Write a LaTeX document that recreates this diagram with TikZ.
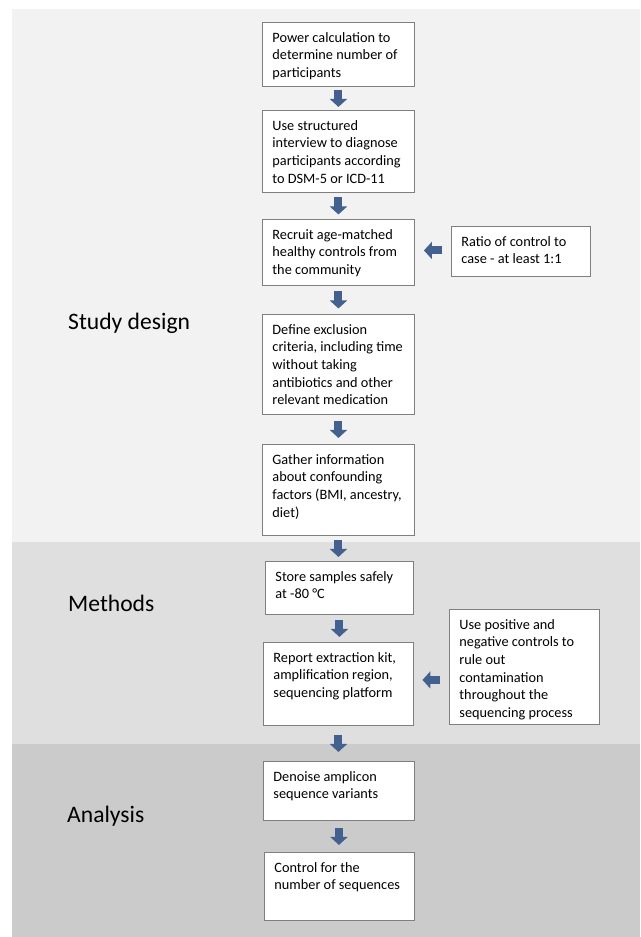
\documentclass[tikz,border=0pt]{standalone}
\usepackage{fontspec}
\setmainfont{Carlito}
\usetikzlibrary{arrows.meta,calc}
\definecolor{bandA}{HTML}{F2F2F2}
\definecolor{bandB}{HTML}{DFDFDF}
\definecolor{bandC}{HTML}{CBCBCB}
\definecolor{boxgray}{HTML}{7F7F7F}
\definecolor{arrowblue}{RGB}{68,96,142}
\newcommand{\bt}[3]{\begin{minipage}[t][#2][t]{#1}\raggedright\rule{0pt}{19.6pt}#3\end{minipage}}
\tikzset{
  flowbox/.style={draw=boxgray, line width=0.9pt, fill=white, inner xsep=10pt, inner ysep=0pt,
    anchor=north west, font=\fontsize{14.3}{17.7}\selectfont, text=black},
  seclabel/.style={anchor=base west, inner sep=0pt, font=\fontsize{23.6}{28}\selectfont, text=black},
  blockarrow/.style={draw=arrowblue, line width=8pt, -{Triangle[width=17pt,length=8pt]}}
}
\begin{document}
\begin{tikzpicture}[x=1pt,y=-1pt]
\useasboundingbox (0,0) rectangle (640,937);
% bands
\fill[bandA] (12,9) rectangle (640,542);
\fill[bandB] (12,542) rectangle (640,744);
\fill[bandC] (12,744) rectangle (640,937);
% section labels
\node[seclabel] (l1) at (68,329) {Study design};
\node[seclabel] (l2) at (68,611) {Methods};
\node[seclabel] (l3) at (67,822) {Analysis};
% main boxes
\node[flowbox] (b1) at (262,22) {\bt{132pt}{64pt}{Power calculation to\\determine number of\\participants}};
\node[flowbox] (b2) at (262,110) {\bt{132pt}{82pt}{Use structured\\interview to diagnose\\participants according\\to DSM-5 or ICD-11}};
\node[flowbox] (b3) at (262,219) {\bt{132pt}{66pt}{Recruit age-matched\\healthy controls from\\the community}};
\node[flowbox] (b4) at (262,314) {\bt{132pt}{100pt}{Define exclusion\\criteria, including time\\without taking\\antibiotics and other\\relevant medication}};
\node[flowbox] (b5) at (262,444) {\bt{132pt}{91pt}{Gather information\\about confounding\\factors (BMI, ancestry,\\diet)}};
\node[flowbox] (b6) at (265,561) {\bt{128pt}{53pt}{Store samples safely\\at -80 °C}};
\node[flowbox] (b7) at (263,642) {\bt{130pt}{83pt}{Report extraction kit,\\amplification region,\\sequencing platform}};
\node[flowbox] (b8) at (263,761) {\bt{131pt}{59pt}{Denoise amplicon\\sequence variants}};
\node[flowbox] (b9) at (264,852) {\bt{130pt}{68pt}{Control for the\\number of sequences}};
% side boxes
\node[flowbox] (s1) at (451,226) {\bt{119pt}{50pt}{Ratio of control to\\case - at least 1:1}};
\node[flowbox] (s2) at (449,609) {\bt{130pt}{115pt}{Use positive and\\negative controls to\\rule out\\contamination\\throughout the\\sequencing process}};
% down arrows
\foreach \a/\b in {b1/b2,b2/b3,b3/b4,b4/b5,b5/b6,b6/b7,b7/b8,b8/b9}{
  \draw[blockarrow] ($(\a.south)!0.5!(\a.south |- \b.north)+(0,-8.5)$) -- ++(0,17);
}
% side arrows
\draw[blockarrow] ($(b3.east)!0.5!(b3.east -| s1.west)+(9,-2)$) -- ++(-18,0);
\draw[blockarrow] ($(b7.east)!0.5!(b7.east -| s2.west)+(9,-4)$) -- ++(-18,0);
\end{tikzpicture}
\end{document}
